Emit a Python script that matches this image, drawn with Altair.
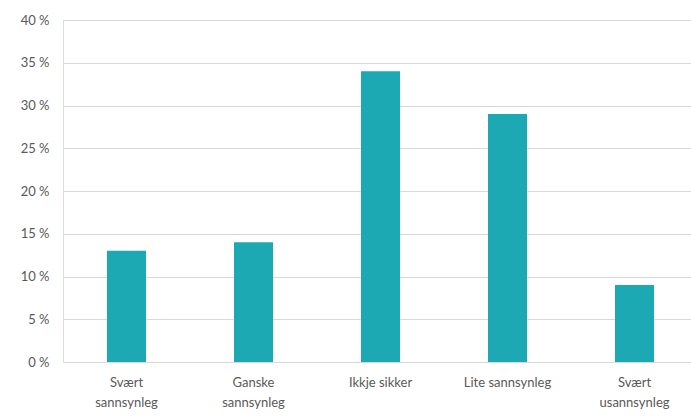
import altair as alt
import pandas as pd

# Survey answers and their share of respondents (percent)
categories = [
    "Svært\nsannsynleg",
    "Ganske\nsannsynleg",
    "Ikkje sikker",
    "Lite sannsynleg",
    "Svært\nusannsynleg",
]
shares = [13, 14, 34, 29, 9]
y_ticks = [0, 5, 10, 15, 20, 25, 30, 35, 40]

df = pd.DataFrame({"svar": categories, "andel": shares})

label_font = "Lato"
label_color = "#595959"
grid_color = "#d9d9d9"

chart = (
    alt.Chart(df)
    .mark_bar(color="#1CA9B3", size=39)
    .encode(
        x=alt.X(
            "svar:N",
            sort=categories,
            # the category band runs a little past the right edge of the canvas
            scale=alt.Scale(paddingInner=0, paddingOuter=0, range=[0, 635]),
            axis=alt.Axis(
                title=None,
                labelAngle=0,
                labelExpr="split(datum.label, '\\n')",
                labelFont=label_font,
                labelFontSize=13,
                labelColor=label_color,
                labelLineHeight=20,
                labelPadding=14,
                ticks=False,
                domainColor=grid_color,
                domainWidth=1,
                grid=False,
            ),
        ),
        y=alt.Y(
            "andel:Q",
            scale=alt.Scale(domain=[0, 40], nice=False),
            axis=alt.Axis(
                title=None,
                values=y_ticks,
                labelExpr="datum.value + ' %'",
                labelFont=label_font,
                labelFontSize=13,
                labelColor=label_color,
                labelPadding=14,
                ticks=False,
                domain=False,
                gridColor=grid_color,
                gridWidth=1,
            ),
        ),
    )
    .properties(
        width=628,
        height=342,
        autosize=alt.AutoSizeParams(type="none"),
        padding={"left": 63, "top": 20, "right": 0, "bottom": 54},
    )
    .configure_view(stroke=None)
    .configure(background="white")
)

chart.save("out.html", embed_options={"renderer": "svg", "actions": False})
